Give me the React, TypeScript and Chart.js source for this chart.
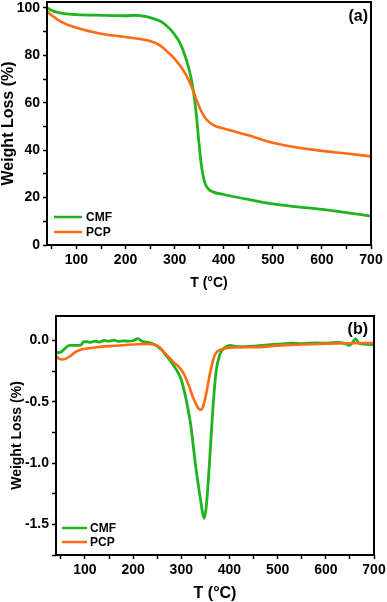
import React, { useEffect, useRef } from "react";
import { Chart, registerables } from "chart.js";

Chart.register(...registerables);

// ---- Panel (a): TGA ----
const tgaTempCMF = [40, 45, 50, 60, 75, 100, 150, 200, 220, 240, 255, 270, 283, 296, 310, 320, 330, 337, 344, 349, 354, 361, 368, 378, 400, 450, 500, 550, 600, 650, 700];
const tgaCMF = [100, 99.5, 98.9, 98.2, 97.6, 97.2, 96.9, 96.7, 96.9, 96.4, 95.6, 94.5, 92.6, 89.8, 85.6, 80.6, 73.6, 66.6, 55.4, 44.2, 34.4, 26.6, 23.8, 22.4, 21.3, 19.2, 17.3, 16.1, 15.0, 13.7, 12.2];
const tgaTempPCP = [40, 50, 70, 100, 150, 200, 250, 270, 290, 300, 320, 335, 345, 355, 365, 380, 400, 450, 500, 550, 600, 650, 700];
const tgaPCP = [98.6, 96.8, 94.0, 91.6, 89.1, 87.7, 86.0, 84.2, 80.6, 78.5, 72.9, 66.6, 61.0, 56.1, 52.9, 50.5, 49.1, 46.3, 43.1, 41.1, 39.7, 38.6, 37.4];

// ---- Panel (b): DTG ----
const dtgTempCMF = [40, 45, 52, 60, 68, 80, 92, 98, 105, 112, 120, 130, 140, 150, 160, 170, 180, 190, 200, 210, 218, 230, 240, 250, 260, 270, 280, 290, 300, 310, 320, 330, 340, 345, 348, 352, 358, 365, 372, 380, 390, 400, 420, 450, 480, 500, 530, 550, 580, 600, 620, 640, 648, 655, 662, 668, 680, 700];
const dtgCMF = [-0.09, -0.1, -0.09, -0.06, -0.04, -0.04, -0.035, -0.01, -0.01, -0.015, -0.005, -0.012, 0.0, -0.005, 0.003, -0.008, -0.003, -0.005, -0.002, 0.015, -0.005, -0.015, -0.025, -0.046, -0.08, -0.13, -0.18, -0.24, -0.32, -0.48, -0.7, -1.03, -1.3, -1.42, -1.45, -1.35, -1.03, -0.59, -0.26, -0.115, -0.06, -0.04, -0.05, -0.045, -0.035, -0.03, -0.022, -0.025, -0.02, -0.022, -0.015, -0.025, -0.04, -0.02, 0.015, -0.02, -0.03, -0.035];
const dtgTempPCP = [40, 45, 52, 60, 70, 80, 90, 100, 125, 150, 200, 230, 245, 255, 270, 285, 295, 305, 315, 325, 335, 340, 345, 352, 360, 370, 380, 400, 450, 500, 550, 600, 650, 700];
const dtgPCP = [-0.125, -0.145, -0.155, -0.15, -0.125, -0.095, -0.078, -0.068, -0.055, -0.046, -0.032, -0.028, -0.035, -0.055, -0.12, -0.18, -0.215, -0.27, -0.36, -0.47, -0.55, -0.565, -0.54, -0.43, -0.26, -0.115, -0.078, -0.058, -0.055, -0.042, -0.032, -0.026, -0.022, -0.02];

const seriesNames = ["CMF", "PCP"];
const xTitle = "T (°C)";
const yTitle = "Weight Loss (%)";

const GREEN = "#1fb41f";
const ORANGE = "#ff6a14";
const FONT = "Arial, 'Liberation Sans', Helvetica, sans-serif";

function toPoints(xs: number[], ys: number[]) {
  return xs.map((x, i) => ({ x, y: ys[i] }));
}

interface PanelCfg {
  width: number;
  height: number;
  areaLeft: number;
  areaRight: number;
  areaTop: number;
  areaBottom: number;
  yMin: number;
  yMax: number;
  yStep: number;
  yMajor: number;
  yDecimals: number;
  yTitleSize: number;
  yTitlePad: number;
  xTitleSize: number;
  xTitlePad: number;
  label: string;
  labelY: number;
  legendX0: number;
  legendX1: number;
  legendTextX: number;
  legendY: number[];
  cmf: { x: number; y: number }[];
  pcp: { x: number; y: number }[];
}

function zeroPad(s: any) {
  s.paddingTop = 0;
  s.paddingBottom = 0;
  s.paddingLeft = 0;
  s.paddingRight = 0;
}

function makeChart(canvas: HTMLCanvasElement, c: PanelCfg) {
  const framePlugin = {
    id: "frameAndLegend",
    afterDatasetsDraw(chart: any) {
      const ctx = chart.ctx;
      const a = chart.chartArea;
      ctx.save();
      ctx.strokeStyle = "#000";
      ctx.lineWidth = 2;
      ctx.strokeRect(a.left, a.top, a.right - a.left, a.bottom - a.top);
      // panel label
      ctx.fillStyle = "#000";
      ctx.font = `bold 16px ${FONT}`;
      ctx.textAlign = "right";
      ctx.textBaseline = "middle";
      ctx.fillText(c.label, 368, c.labelY);
      // legend
      const colors = [GREEN, ORANGE];
      ctx.font = `bold 12px ${FONT}`;
      ctx.textAlign = "left";
      seriesNames.forEach((n, i) => {
        ctx.strokeStyle = colors[i];
        ctx.lineWidth = 2.5;
        ctx.beginPath();
        ctx.moveTo(c.legendX0, c.legendY[i]);
        ctx.lineTo(c.legendX1, c.legendY[i]);
        ctx.stroke();
        ctx.fillStyle = "#000";
        ctx.fillText(n, c.legendTextX, c.legendY[i] + 0.5);
      });
      ctx.restore();
    },
  };

  return new Chart(canvas, {
    type: "line",
    data: {
      datasets: [
        {
          label: seriesNames[0],
          data: c.cmf,
          borderColor: GREEN,
          borderWidth: 2.8,
          pointRadius: 0,
          cubicInterpolationMode: "monotone",
          order: 1,
        },
        {
          label: seriesNames[1],
          data: c.pcp,
          borderColor: ORANGE,
          borderWidth: 2.6,
          pointRadius: 0,
          cubicInterpolationMode: "monotone",
          order: 0,
        },
      ],
    },
    options: {
      responsive: false,
      animation: false,
      events: [],
      layout: {
        padding: { left: 0, top: c.areaTop, right: c.width - c.areaRight, bottom: 0 },
      },
      plugins: { legend: { display: false }, tooltip: { enabled: false } },
      scales: {
        x: {
          type: "linear",
          min: 40,
          max: 700,
          afterFit: (s: any) => {
            s.height = c.height - c.areaBottom;
            zeroPad(s);
          },
          border: { display: false },
          grid: {
            drawOnChartArea: false,
            drawTicks: true,
            tickLength: 4,
            tickColor: "#000",
            tickWidth: 1.5,
          },
          ticks: {
            stepSize: 50,
            autoSkip: false,
            maxRotation: 0,
            includeBounds: false,
            padding: 3,
            color: "#000",
            font: { family: FONT, size: 14, weight: "bold" },
            callback: (v: any) => (Math.round(v) % 100 === 0 ? String(v) : ""),
          },
          title: {
            display: true,
            text: xTitle,
            color: "#000",
            font: { family: FONT, size: c.xTitleSize, weight: "bold", lineHeight: 1 },
            padding: { top: 0, bottom: c.xTitlePad },
          },
        },
        y: {
          type: "linear",
          min: c.yMin,
          max: c.yMax,
          afterFit: (s: any) => {
            s.width = c.areaLeft;
            zeroPad(s);
          },
          border: { display: false },
          grid: {
            drawOnChartArea: false,
            drawTicks: true,
            tickLength: 4,
            tickColor: "#000",
            tickWidth: 1.5,
          },
          ticks: {
            stepSize: c.yStep,
            autoSkip: false,
            includeBounds: false,
            padding: 3,
            color: "#000",
            font: { family: FONT, size: 14, weight: "bold" },
            callback: (v: any) => {
              const r = v / c.yMajor;
              if (Math.abs(r - Math.round(r)) < 1e-6) {
                const val = Math.abs(v) < 1e-9 ? 0 : v;
                return val.toFixed(c.yDecimals);
              }
              return "";
            },
          },
          title: {
            display: true,
            text: yTitle,
            color: "#000",
            font: { family: FONT, size: c.yTitleSize, weight: "bold", lineHeight: 1 },
            padding: { top: c.yTitlePad, bottom: 0 },
          },
        },
      },
    } as any,
    plugins: [framePlugin],
  });
}

const panelA: PanelCfg = {
  width: 387,
  height: 300,
  areaLeft: 47,
  areaRight: 371,
  areaTop: 2,
  areaBottom: 245,
  yMin: 0,
  yMax: 102.5,
  yStep: 10,
  yMajor: 20,
  yDecimals: 0,
  yTitleSize: 16,
  yTitlePad: 1,
  xTitleSize: 14,
  xTitlePad: 10,
  label: "(a)",
  labelY: 17,
  legendX0: 54,
  legendX1: 82,
  legendTextX: 86,
  legendY: [217, 232],
  cmf: toPoints(tgaTempCMF, tgaCMF),
  pcp: toPoints(tgaTempPCP, tgaPCP),
};

const panelB: PanelCfg = {
  width: 387,
  height: 302,
  areaLeft: 56,
  areaRight: 374,
  areaTop: 16,
  areaBottom: 255,
  yMin: -1.75,
  yMax: 0.2,
  yStep: 0.25,
  yMajor: 0.5,
  yDecimals: 1,
  yTitleSize: 14,
  yTitlePad: 10,
  xTitleSize: 16,
  xTitlePad: 0,
  label: "(b)",
  labelY: 30,
  legendX0: 62,
  legendX1: 87,
  legendTextX: 90,
  legendY: [228, 242],
  cmf: toPoints(dtgTempCMF, dtgCMF),
  pcp: toPoints(dtgTempPCP, dtgPCP),
};

function Panel({ cfg, top }: { cfg: PanelCfg; top: number }) {
  const ref = useRef<HTMLCanvasElement | null>(null);
  useEffect(() => {
    if (!ref.current) return;
    const chart = makeChart(ref.current, cfg);
    return () => chart.destroy();
  }, [cfg]);
  return (
    <canvas
      ref={ref}
      width={cfg.width}
      height={cfg.height}
      style={{ position: "absolute", left: 0, top, width: cfg.width, height: cfg.height, display: "block" }}
    />
  );
}

export default function App() {
  return (
    <div style={{ position: "absolute", left: 0, top: 0, width: 387, height: 602, background: "#fff", overflow: "hidden" }}>
      <Panel cfg={panelA} top={0} />
      <Panel cfg={panelB} top={300} />
    </div>
  );
}
